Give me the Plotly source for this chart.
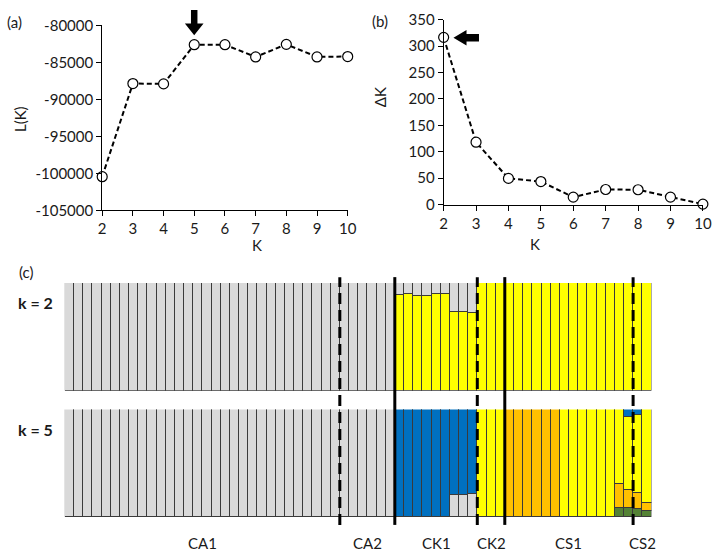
import plotly.graph_objects as go

W, H = 722, 560

# ---------------- data ----------------
K_values = [2, 3, 4, 5, 6, 7, 8, 9, 10]
L_K = [-100450, -87850, -87900, -82600, -82600, -84250, -82550, -84250, -84200]
delta_K = [316.5, 118, 49.5, 43.5, 14, 28.5, 28, 14, 0.8]

L_ticks = [-105000, -100000, -95000, -90000, -85000, -80000]
dK_ticks = [0, 50, 100, 150, 200, 250, 300, 350]

groups = ["CA1", "CA2", "CK1", "CK2", "CS1", "CS2"]
group_sizes = [30, 6, 9, 3, 14, 2]
boundary_styles = ["dash", "solid", "dash", "solid", "dash"]

ck1_gray_k2 = [0.11, 0.105, 0.117, 0.12, 0.10, 0.105, 0.267, 0.272, 0.278]
k2_gray = [1.0] * 36 + ck1_gray_k2 + [0.0] * 19
k2_yellow = [1.0 - g for g in k2_gray]

k5_gray = [1.0] * 36 + [0, 0, 0, 0, 0, 0, 0.205, 0.205, 0.215] + [0.0] * 19
k5_green = [0.0] * 48 + [0.0] * 12 + [0.082, 0.08] + [0.076, 0.055]
k5_orange = [0.0] * 48 + [1.0] * 6 + [0.0] * 6 + [0.228, 0.173] + [0.145, 0.072]
k5_blue = [0.0] * 36 + [1.0] * 6 + [0.795, 0.795, 0.785] + [0.0] * 3 + [0.0] * 12 + [0.0, 0.076] + [0.055, 0.0]
k5_yellow = [round(1.0 - (a + b + c + d), 4) for a, b, c, d in zip(k5_gray, k5_green, k5_orange, k5_blue)]

n_ind = sum(group_sizes)
idx = list(range(n_ind))

GRAY = "#D9D9D9"
YELLOW = "#FFFF00"
BLUE = "#0070C0"
ORANGE = "#FFC000"
GREEN = "#548235"

FONT = "Lato"


def px_x(x):
    return x / W


def px_y(y):
    return 1 - y / H


fig = go.Figure()

line_style = dict(color="black", width=2, dash="5px,3px")
marker_style = dict(size=10, color="white", line=dict(color="black", width=1.2))
fig.add_trace(go.Scatter(x=K_values, y=L_K, mode="lines+markers", line=line_style,
                         marker=marker_style, xaxis="x", yaxis="y", cliponaxis=False))
fig.add_trace(go.Scatter(x=K_values, y=delta_K, mode="lines+markers", line=line_style,
                         marker=marker_style, xaxis="x2", yaxis="y2", cliponaxis=False))


def nz(vals):
    return [v if v > 1e-9 else None for v in vals]


bar_line = dict(color="#3a3a3a", width=1)
for vals, col in [(k2_yellow, YELLOW), (k2_gray, GRAY)]:
    fig.add_trace(go.Bar(x=idx, y=nz(vals), marker=dict(color=col, line=bar_line),
                         xaxis="x3", yaxis="y3", width=1.0))
for vals, col in [(k5_green, GREEN), (k5_orange, ORANGE), (k5_gray, GRAY),
                  (k5_yellow, YELLOW), (k5_blue, BLUE)]:
    fig.add_trace(go.Bar(x=idx, y=nz(vals), marker=dict(color=col, line=bar_line),
                         xaxis="x4", yaxis="y4", width=1.0))

axis_common = dict(showgrid=False, zeroline=False, showline=True, linecolor="black",
                   linewidth=1, ticks="outside", ticklen=5, tickcolor="black",
                   tickfont=dict(family=FONT, size=15, color="#1a1a1a"))

bars_x0, bars_x1 = 62, 659.3

fig.update_layout(
    width=W, height=H, margin=dict(l=0, r=0, t=0, b=0),
    paper_bgcolor="white", plot_bgcolor="white", showlegend=False,
    barmode="stack", bargap=0,
    font=dict(family=FONT, color="#1a1a1a"),
    xaxis=dict(domain=[px_x(100), px_x(350)], anchor="y", range=[2, 10],
               tickvals=K_values, **axis_common),
    yaxis=dict(domain=[px_y(207), px_y(16)], anchor="x", range=[-105000, -80000],
               tickvals=L_ticks, ticktext=[str(v) for v in L_ticks], **axis_common),
    xaxis2=dict(domain=[px_x(447.7), px_x(711.7)], anchor="y2", range=[2, 10],
                tickvals=K_values, **axis_common),
    yaxis2=dict(domain=[px_y(201), px_y(10)], anchor="x2", range=[0, 350],
                tickvals=dK_ticks, **axis_common),
    xaxis3=dict(domain=[px_x(bars_x0), px_x(bars_x1)], anchor="y3",
                range=[-0.5, n_ind - 0.5], visible=False),
    yaxis3=dict(domain=[px_y(393.3), px_y(282)], anchor="x3", range=[0, 1], visible=False),
    xaxis4=dict(domain=[px_x(bars_x0), px_x(bars_x1)], anchor="y4",
                range=[-0.5, n_ind - 0.5], visible=False),
    yaxis4=dict(domain=[px_y(524.3), px_y(412.7)], anchor="x4", range=[0, 1], visible=False),
)

shapes = []
cum = 0
for size, style in zip(group_sizes[:-1], boundary_styles):
    cum += size
    shapes.append(dict(type="line", xref="x3", yref="paper", x0=cum - 0.5, x1=cum - 0.5,
                       y0=px_y(532), y1=px_y(276),
                       line=dict(color="black", width=3,
                                 dash="solid" if style == "solid" else "11px,6px")))


def poly(points):
    p = "M " + " L ".join(f"{px_x(x):.5f},{px_y(y):.5f}" for x, y in points) + " Z"
    return dict(type="path", xref="paper", yref="paper", path=p,
                fillcolor="black", line=dict(width=0))


ax = 193.7
shapes.append(poly([(ax - 3.3, 0), (ax + 3.3, 0), (ax + 3.3, 14), (ax + 9.5, 14),
                    (ax, 26), (ax - 9.5, 14), (ax - 3.3, 14)]))
ay = 28.7
shapes.append(poly([(457.7, ay), (471, ay - 8), (471, ay - 3.8), (483.7, ay - 3.8),
                    (483.7, ay + 3.8), (471, ay + 3.8), (471, ay + 8)]))
fig.update_layout(shapes=shapes)

ann = []


def text(x, y, s, size=15, bold=False, angle=0):
    ann.append(dict(x=px_x(x), y=px_y(y), xref="paper", yref="paper", text=f"<b>{s}</b>" if bold else s,
                    showarrow=False, xanchor="center", yanchor="middle", textangle=angle,
                    font=dict(family=FONT, size=size, color="#1a1a1a")))


text(11, 12, "(a)")
text(383, 11, "(b)")
text(22, 271, "(c)")
text(17, 113, "L(K)", angle=-90)
text(383, 90, "ΔK", angle=-90)
text(258, 243, "K")
text(541, 242, "K")
text(32, 302, "k = 2", size=16, bold=True)
text(32, 433, "k = 5", size=16, bold=True)

start = 0
for g, size in zip(groups, group_sizes):
    center = start + (size - 1) / 2
    ann.append(dict(x=center, y=px_y(551), xref="x4", yref="paper", text=g, showarrow=False,
                    xanchor="center", yanchor="middle",
                    font=dict(family=FONT, size=15, color="#1a1a1a")))
    start += size

fig.update_layout(annotations=ann)

fig.write_html("out.html")
